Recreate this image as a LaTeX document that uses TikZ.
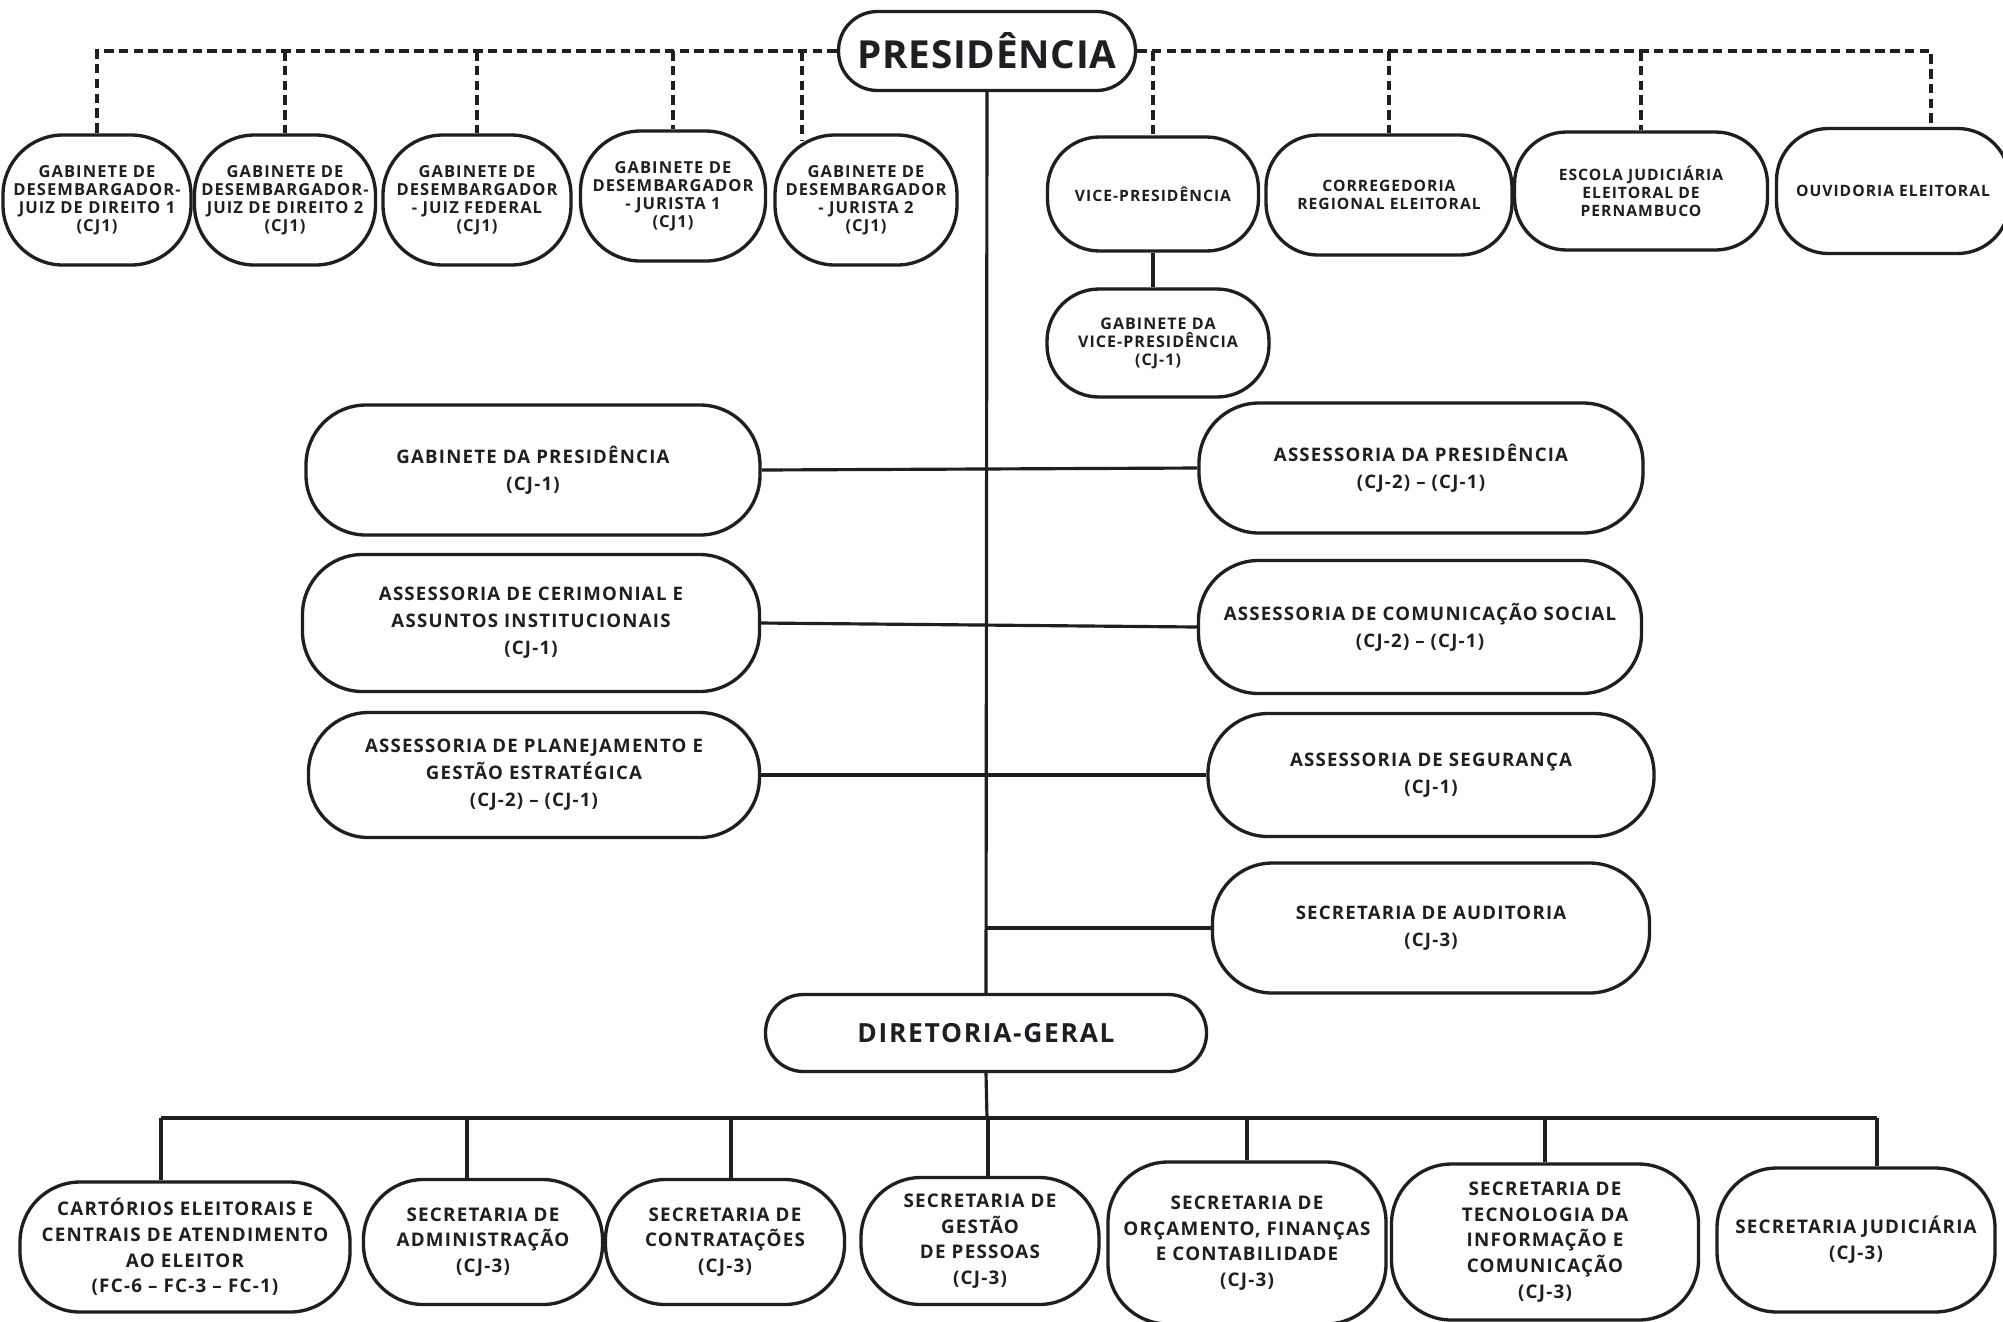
\documentclass[tikz,border=0pt]{standalone}
\usepackage{fontspec}
\setmainfont{Open Sans}[LetterSpace=6.5]
\newfontfamily\headfont{Open Sans}[LetterSpace=2]
\usepackage{tikz}
\definecolor{ink}{HTML}{1E1E23}
\tikzstyle{link} = [draw=ink, line width=0.9pt]
\tikzstyle{dashlink} = [draw=ink, line width=0.9pt, dash pattern=on 2.7pt off 1.5pt]
\tikzstyle{pill} = [draw=ink, line width=0.95pt, rectangle, fill=white, inner sep=0pt, align=center, text=ink]
\tikzstyle{headpill} = [pill, rounded corners=0.39cm, minimum height=0.79cm, font=\headfont\fontsize{11}{13}\selectfont\bfseries]
\tikzstyle{toppill} = [pill, rounded corners=0.6cm, minimum height=1.30cm, font=\fontsize{4.7}{5.1}\selectfont\bfseries]
\tikzstyle{vicepill} = [pill, rounded corners=0.52cm, font=\fontsize{4.45}{5.1}\selectfont\bfseries]
\tikzstyle{midpill} = [pill, rounded corners=0.6cm, font=\fontsize{5.3}{7.7}\selectfont\bfseries]
\tikzstyle{botpill} = [pill, rounded corners=0.6cm, font=\fontsize{5.35}{7.3}\selectfont\bfseries]

\begin{document}
\begin{tikzpicture}
        \useasboundingbox[fill=white] (0,0) rectangle (20.03,-13.21);
        \node[headpill, minimum width=2.97cm] (pres) at (9.87,-0.51) {PRESIDÊNCIA};

        \node[toppill, minimum width=1.88cm] (gab1) at (0.97,-2.00) {GABINETE DE\\DESEMBARGADOR-\\JUIZ DE DIREITO 1\\(CJ1)};
        \node[toppill, minimum width=1.81cm] (gab2) at (2.85,-2.00) {GABINETE DE\\DESEMBARGADOR-\\JUIZ DE DIREITO 2\\(CJ1)};
        \node[toppill, minimum width=1.88cm] (gab3) at (4.77,-2.00) {GABINETE DE\\DESEMBARGADOR\\- JUIZ FEDERAL\\(CJ1)};
        \node[toppill, minimum width=1.85cm] (gab4) at (6.73,-1.96) {GABINETE DE\\DESEMBARGADOR\\- JURISTA 1\\(CJ1)};
        \node[toppill, minimum width=1.82cm] (gab5) at (8.66,-2.00) {GABINETE DE\\DESEMBARGADOR\\- JURISTA 2\\(CJ1)};

        \node[vicepill, minimum width=2.11cm, minimum height=1.14cm] (vice) at (11.53,-1.94) {VICE-PRESIDÊNCIA};
        \node[vicepill, minimum width=2.46cm, minimum height=1.20cm] (correg) at (13.89,-1.95) {CORREGEDORIA\\REGIONAL ELEITORAL};
        \node[vicepill, minimum width=2.53cm, minimum height=1.18cm] (escola) at (16.41,-1.91) {ESCOLA JUDICIÁRIA\\ELEITORAL DE\\PERNAMBUCO};
        \node[vicepill, minimum width=2.33cm, minimum height=1.25cm] (ouvid) at (18.93,-1.91) {OUVIDORIA ELEITORAL};
        \node[vicepill, minimum width=2.22cm, minimum height=1.08cm, font=\fontsize{4.56}{5.1}\selectfont\bfseries] (gabvice) at (11.58,-3.43) {GABINETE DA\\VICE-PRESIDÊNCIA\\(CJ-1)};

        \node[midpill, minimum width=4.54cm, minimum height=1.30cm] (gabpres) at (5.33,-4.70) {GABINETE DA PRESIDÊNCIA\\(CJ-1)};
        \node[midpill, minimum width=4.57cm, minimum height=1.37cm] (cerim) at (5.31,-6.23) {ASSESSORIA DE CERIMONIAL E\\ASSUNTOS INSTITUCIONAIS\\(CJ-1)};
        \node[midpill, minimum width=4.51cm, minimum height=1.25cm] (planej) at (5.34,-7.75) {ASSESSORIA DE PLANEJAMENTO E\\GESTÃO ESTRATÉGICA\\(CJ-2) – (CJ-1)};
        \node[midpill, minimum width=4.44cm, minimum height=1.30cm] (asspres) at (14.21,-4.68) {ASSESSORIA DA PRESIDÊNCIA\\(CJ-2) – (CJ-1)};
        \node[midpill, minimum width=4.43cm, minimum height=1.33cm] (comun) at (14.20,-6.27) {ASSESSORIA DE COMUNICAÇÃO SOCIAL\\(CJ-2) – (CJ-1)};
        \node[midpill, minimum width=4.46cm, minimum height=1.23cm] (segur) at (14.31,-7.75) {ASSESSORIA DE SEGURANÇA\\(CJ-1)};
        \node[midpill, minimum width=4.37cm, minimum height=1.30cm] (audit) at (14.31,-9.28) {SECRETARIA DE AUDITORIA\\(CJ-3)};

        \node[pill, rounded corners=0.38cm, minimum width=4.41cm, minimum height=0.77cm, font=\fontsize{7.5}{9}\selectfont\bfseries] (dirger) at (9.86,-10.33) {DIRETORIA-GERAL};
        \coordinate (bus) at (9.87,-11.18);

        \node[botpill, minimum width=3.30cm, minimum height=1.30cm] (cart) at (1.85,-12.47) {CARTÓRIOS ELEITORAIS E\\CENTRAIS DE ATENDIMENTO\\AO ELEITOR\\(FC-6 – FC-3 – FC-1)};
        \node[botpill, minimum width=2.39cm, minimum height=1.25cm] (adm) at (4.83,-12.42) {SECRETARIA DE\\ADMINISTRAÇÃO\\(CJ-3)};
        \node[botpill, minimum width=2.39cm, minimum height=1.25cm] (contr) at (7.25,-12.42) {SECRETARIA DE\\CONTRATAÇÕES\\(CJ-3)};
        \node[botpill, minimum width=2.38cm, minimum height=1.27cm] (pess) at (9.80,-12.41) {SECRETARIA DE\\GESTÃO\\DE PESSOAS\\(CJ-3)};
        \node[botpill, minimum width=2.78cm, minimum height=1.62cm] (orc) at (12.47,-12.43) {SECRETARIA DE\\ORÇAMENTO, FINANÇAS\\E CONTABILIDADE\\(CJ-3)};
        \node[botpill, minimum width=3.07cm, minimum height=1.56cm] (tic) at (15.45,-12.42) {SECRETARIA DE\\TECNOLOGIA DA\\INFORMAÇÃO E\\COMUNICAÇÃO\\(CJ-3)};
        \node[botpill, minimum width=2.78cm, minimum height=1.44cm] (judic) at (18.56,-12.40) {SECRETARIA JUDICIÁRIA\\(CJ-3)};

        \path[dashlink] (pres.west) -- (gab1.north |- pres.west) -- (gab1.north);
        \foreach \g in {gab2,gab3,gab4}
            \path[dashlink] (\g.north |- pres.west) -- (\g.north);
        \path[dashlink] ([xshift=-0.64cm]gab5.north |- pres.west) -- ([xshift=-0.64cm,yshift=-0.08cm]gab5.north);
        \path[dashlink] (pres.east) -- ([xshift=0.38cm]ouvid.north |- pres.east) -- ([xshift=0.38cm]ouvid.north);
        \foreach \g in {vice,correg,escola}
            \path[dashlink] (\g.north |- pres.east) -- (\g.north);

        \path[link] (vice.south) -- (vice.south |- gabvice.north);
        \path[link] (pres.south) -- (dirger.north);
        \path[link] (gabpres.east) -- (asspres.west);
        \path[link] (cerim.east) -- (comun.west);
        \path[link] (planej.east) -- (segur.west);
        \path[link] (audit.west) -- (audit.west -| pres.south);

        \path[link] (dirger.south) -- (bus);
        \path[link] ([xshift=-0.24cm]cart.north |- bus) -- ([xshift=0.21cm]judic.north |- bus);
        \foreach \b/\dx in {cart/-0.24,adm/-0.16,contr/0.06,pess/0.08,orc/0,tic/0,judic/0.21}
            \path[link] ([xshift=\dx cm]\b.north |- bus) -- ([xshift=\dx cm]\b.north);
    \end{tikzpicture}
\end{document}
